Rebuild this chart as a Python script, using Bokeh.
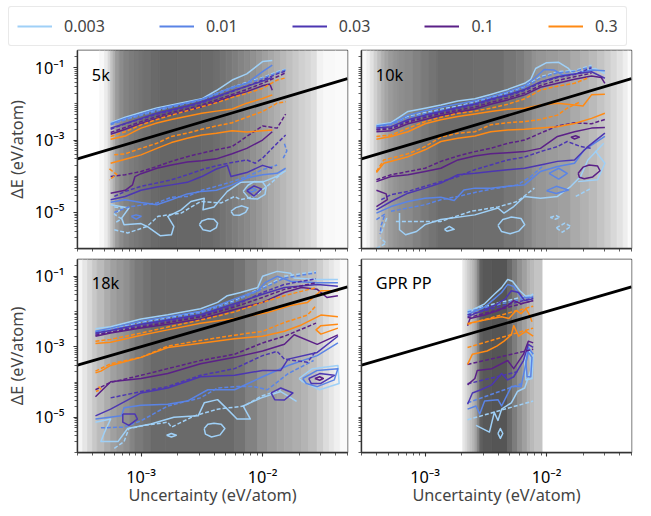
import re
from bokeh.plotting import figure
from bokeh.layouts import column, row
from bokeh.models import FixedTicker, Label, Legend, LegendItem
from bokeh.embed import file_html
from bokeh.resources import INLINE

LEVELS = ["0.003", "0.01", "0.03", "0.1", "0.3"]
LEVEL_KEYS = ["003", "01", "03", "1", "3"]
COLORS = ["#9fd0f7", "#5a84e6", "#4c36b2", "#5b2087", "#ff8a14"]
PANELS = ["5k", "10k", "18k", "GPR PP"]
PANEL_KEYS = ["K5", "K10", "K18", "GPR"]
X_TICK_LABELS = {1e-3: "10\u207b\u00b3", 1e-2: "10\u207b\u00b2"}
Y_TICK_LABELS = {1e-1: "10\u207b\u00b9", 1e-3: "10\u207b\u00b3", 1e-5: "10\u207b\u2075"}
X_LIMITS = (3e-4, 0.05)
Y_LIMITS = (1e-6, 0.3)
PARITY = [3e-4, 0.05]

# grey histogram bands: log10 edges and grey levels
K5_BAND_EDGES = [-3.523,-3.34,-3.30,-3.27,-3.25,-3.23,-3.21,-3.18,-3.14,-3.10,-3.06,-3.02,-2.98,-2.92,-2.85,-2.7,-2.5,-2.4,-2.35,-2.3,-2.25,-2.2,-2.15,-2.1,-2.05,-2.0,-1.95,-1.9,-1.85,-1.8,-1.75,-1.7,-1.65,-1.6,-1.55,-1.5,-1.4,-1.3]
K5_BAND_GREY = [255,248,235,215,195,175,155,140,130,124,120,116,112,106,102,103,106,110,115,120,126,132,138,145,152,160,168,176,184,192,200,208,214,222,242,248,250]
K10_BAND_EDGES = [-3.523,-3.48,-3.45,-3.42,-3.39,-3.36,-3.33,-3.3,-3.26,-3.22,-3.17,-3.1,-3.03,-2.97,-2.9,-2.6,-2.35,-2.25,-2.18,-2.12,-2.08,-2.0,-1.9,-1.8,-1.72,-1.65,-1.58,-1.52,-1.47,-1.42,-1.37,-1.33,-1.3]
K10_BAND_GREY = [250,240,225,208,192,176,165,155,148,142,138,130,122,116,108,110,118,124,135,145,150,155,160,170,178,186,196,206,216,226,238,250]
K18_BAND_EDGES = [-3.523,-3.48,-3.44,-3.4,-3.36,-3.3,-3.25,-3.2,-3.14,-3.09,-3.05,-2.98,-2.92,-2.8,-2.23,-2.14,-2.04,-1.96,-1.88,-1.82,-1.75,-1.68,-1.62,-1.55,-1.5,-1.45,-1.41,-1.36,-1.3]
K18_BAND_GREY = [245,230,215,200,187,172,160,152,144,132,122,114,106,106,115,130,145,155,162,168,174,180,190,205,220,230,240,250]
GPR_BAND_EDGES = [-3.523,-2.69,-2.67,-2.65,-2.63,-2.61,-2.59,-2.57,-2.55,-2.53,-2.45,-2.32,-2.28,-2.24,-2.2,-2.16,-2.13,-2.10,-2.03,-1.3]
GPR_BAND_GREY = [255,232,218,206,194,180,165,130,98,88,85,105,125,145,160,176,186,196,255]

# contour lines as (log10 uncertainty, log10 dE); s solid, d dashed, c closed solid, e closed dashed
K5_003_s1 = [(-3.25,-2.52),(-3.13,-2.37),(-3,-2.24),(-2.87,-2.11),(-2.75,-2.03),(-2.62,-1.94),(-2.5,-1.86),(-2.38,-1.63),(-2.25,-1.34),(-2.13,-1.17),(-2,-.83),(-1.92,-.8)]
K5_01_s1 = [(-3.25,-2.55),(-3.13,-2.4),(-3,-2.28),(-2.87,-2.15),(-2.75,-2.06),(-2.62,-1.97),(-2.5,-1.87),(-2.38,-1.71),(-2.25,-1.54),(-2.13,-1.43),(-2,-1.11),(-1.92,-.93)]
K5_003_d1 = [(-3.25,-2.55),(-3.13,-2.42),(-3,-2.29),(-2.87,-2.17),(-2.75,-2.08),(-2.62,-1.97),(-2.5,-1.87),(-2.38,-1.71),(-2.25,-1.54),(-2.13,-1.4),(-2,-1.27),(-1.88,-1.11),(-1.81,-1.04)]
K5_01_d1 = [(-3.25,-2.58),(-3.13,-2.44),(-3,-2.32),(-2.87,-2.2),(-2.75,-2.09),(-2.62,-1.99),(-2.5,-1.89),(-2.38,-1.74),(-2.25,-1.57),(-2.13,-1.43),(-2,-1.29),(-1.88,-1.14),(-1.81,-1.06)]
K5_03_s1 = [(-3.25,-2.67),(-3.13,-2.54),(-3,-2.4),(-2.87,-2.26),(-2.75,-2.16),(-2.62,-2.06),(-2.5,-1.94),(-2.38,-1.8),(-2.25,-1.64),(-2.13,-1.51),(-2,-1.37),(-1.92,-1.27)]
K5_03_d1 = [(-3.25,-2.7),(-3.13,-2.55),(-3,-2.42),(-2.87,-2.29),(-2.75,-2.19),(-2.62,-2.08),(-2.5,-1.97),(-2.38,-1.82),(-2.25,-1.66),(-2.13,-1.51),(-2,-1.34),(-1.88,-1.17),(-1.81,-1.09)]
K5_1_s1 = [(-3.25,-2.84),(-3.13,-2.7),(-3,-2.54),(-2.87,-2.4),(-2.75,-2.29),(-2.62,-2.19),(-2.5,-2.08),(-2.38,-1.94),(-2.25,-1.78),(-2.13,-1.66),(-2,-1.5),(-1.94,-1.45),(-1.92,-1.62)]
K5_1_d1 = [(-3.25,-2.79),(-3.13,-2.65),(-3,-2.49),(-2.87,-2.35),(-2.75,-2.24),(-2.62,-2.14),(-2.5,-2.03),(-2.38,-1.89),(-2.25,-1.74),(-2.13,-1.6),(-2,-1.43),(-1.88,-1.25),(-1.81,-1.14)]
K5_3_s1 = [(-3.25,-2.98),(-3.13,-2.89),(-3,-2.67),(-2.87,-2.53),(-2.75,-2.43),(-2.62,-2.34),(-2.5,-2.26),(-2.38,-2.2),(-2.25,-2.14),(-2.13,-1.98),(-2,-1.85),(-1.92,-1.75)]
K5_3_d1 = [(-3.25,-2.9),(-3.13,-2.77),(-3,-2.58),(-2.87,-2.43),(-2.75,-2.31),(-2.62,-2.19),(-2.5,-2.08),(-2.38,-1.97),(-2.25,-1.82),(-2.13,-1.71),(-2,-1.57),(-1.88,-1.34),(-1.81,-1.28)]
K5_3_d2 = [(-3.22,-3.41),(-3.13,-3.38),(-3,-3.23),(-2.87,-3.09),(-2.75,-2.9),(-2.62,-2.81),(-2.5,-2.7),(-2.38,-2.61),(-2.25,-2.52),(-2.13,-2.37),(-2,-2.21),(-1.88,-1.98),(-1.81,-1.94)]
K5_3_d3 = [(-3.26,-3.8),(-3.2,-3.95),(-3.26,-4.1)]
K5_3_s2 = [(-3.25,-3.64),(-3.13,-3.53),(-3,-3.41),(-2.87,-3.23),(-2.75,-3.07),(-2.62,-2.95),(-2.5,-2.86),(-2.38,-2.81),(-2.25,-2.74),(-2.13,-2.78),(-2,-2.74),(-1.92,-2.72)]
K5_1_d2 = [(-3.25,-4.01),(-3.13,-3.96),(-3,-3.87),(-2.87,-3.73),(-2.75,-3.59),(-2.62,-3.46),(-2.5,-3.36),(-2.38,-3.27),(-2.25,-3.18),(-2.13,-2.9),(-2,-2.61),(-1.88,-2.67),(-1.81,-2.28)]
K5_1_s2 = [(-3.25,-4.47),(-3.13,-4.39),(-3.07,-4.24),(-3.05,-4.01),(-3,-3.93),(-2.87,-3.78),(-2.75,-3.69),(-2.62,-3.61),(-2.5,-3.57),(-2.38,-3.52),(-2.25,-3.38),(-2.13,-3.23),(-2,-3),(-1.92,-2.77)]
K5_03_d2 = [(-3.22,-4.56),(-3.13,-4.42),(-3,-4.28),(-2.87,-4.19),(-2.75,-4.1),(-2.62,-3.96),(-2.5,-3.82),(-2.38,-3.71),(-2.25,-3.62),(-2.13,-3.55),(-2.06,-3.64),(-2,-3.5),(-1.88,-3.09),(-1.81,-2.86)]
K5_03_s2 = [(-3.25,-4.65),(-3.13,-4.56),(-3,-4.39),(-2.87,-4.3),(-2.75,-4.24),(-2.62,-4.17),(-2.5,-4.01),(-2.38,-3.8),(-2.29,-3.7),(-2.26,-4.01),(-2.13,-3.9),(-2,-3.7),(-1.92,-3.78)]
K5_01_s2 = [(-3.25,-4.72),(-3.13,-4.65),(-3,-4.73),(-2.87,-4.79),(-2.75,-4.65),(-2.62,-4.49),(-2.5,-4.42),(-2.38,-4.39),(-2.25,-4.24),(-2.13,-4.05),(-2,-3.96),(-1.88,-3.92),(-1.81,-3.78)]
K5_01_d2 = [(-3.22,-5),(-3.1,-4.85),(-3,-4.8),(-2.87,-4.74),(-2.75,-4.58),(-2.62,-4.56),(-2.5,-4.39),(-2.38,-4.28),(-2.25,-4.15),(-2.13,-4.01),(-2,-3.82),(-1.88,-3.69)]
K5_01_d3 = [(-1.82,-3.1),(-1.8,-3.3),(-1.83,-3.5)]
K5_01_c1 = [(-3.08,-5.11),(-3.04,-5.07),(-3,-5.11),(-3.04,-5.19)]
K5_01_c2 = [(-2.12,-4.38),(-2.08,-4.33),(-2.05,-4.38),(-2.09,-4.44)]
K5_03_c1 = [(-2.13,-4.4),(-2.07,-4.27),(-2.01,-4.35),(-2.07,-4.55)]
K5_003_s2 = [(-3.25,-4.79),(-3.1,-4.88),(-3.16,-5.16),(-3.14,-5.34),(-3,-5.31),(-2.95,-5.39),(-2.84,-5.65),(-2.75,-5.62),(-2.73,-5.39),(-2.78,-5.11),(-2.67,-4.93),(-2.59,-4.7),(-2.48,-4.61),(-2.49,-4.93),(-2.4,-4.85),(-2.29,-4.42),(-2.18,-4.17),(-1.99,-4.15),(-1.88,-4.0),(-1.81,-3.85)]
K5_003_d2 = [(-3.22,-5.48),(-3.11,-5.57),(-2.95,-5.39),(-2.86,-5.11),(-2.67,-5.02),(-2.51,-4.7),(-2.34,-4.74),(-2.23,-4.56),(-2.18,-4.65),(-2.07,-4.56),(-1.93,-4.19),(-1.81,-3.82)]
K5_003_d3 = [(-3.22,-4.85),(-3.15,-4.88),(-3.22,-5.05),(-3.16,-5.18),(-3.22,-5.3)]
K5_003_c1 = [(-2.52,-5.34),(-2.5,-5.24),(-2.45,-5.18),(-2.4,-5.19),(-2.37,-5.3),(-2.38,-5.42),(-2.43,-5.52),(-2.49,-5.48)]
K5_003_c2 = [(-2.26,-4.97),(-2.22,-4.87),(-2.17,-4.82),(-2.12,-4.88),(-2.14,-5.0),(-2.19,-5.08),(-2.24,-5.07)]
K5_003_c3 = [(-2.16,-4.42),(-2.12,-4.25),(-2.07,-4.15),(-2,-4.16),(-1.97,-4.3),(-1.98,-4.5),(-2.04,-4.63),(-2.11,-4.62)]

K10_003_s1 = [(-3.4,-2.58),(-3.28,-2.52),(-3.14,-2.21),(-3,-2.12),(-2.87,-2.03),(-2.73,-1.92),(-2.59,-1.86),(-2.46,-1.74),(-2.32,-1.6),(-2.18,-1.43),(-2.13,-1.32),(-2.09,-1.02),(-2,-.86),(-1.9,-.85),(-1.82,-1.02),(-1.78,-1.17),(-1.7,-1.09),(-1.6,-1.02),(-1.52,-1.16)]
K10_01_s1 = [(-3.4,-2.61),(-3.28,-2.55),(-3.14,-2.31),(-3,-2.19),(-2.87,-2.09),(-2.73,-2),(-2.59,-1.91),(-2.46,-1.8),(-2.32,-1.66),(-2.18,-1.5),(-2.1,-1.29),(-2.02,-1.05),(-1.94,-1.06),(-1.87,-1.2),(-1.77,-1.17),(-1.63,-1.06),(-1.52,-1.08)]
K10_003_d1 = [(-3.4,-2.61),(-3.28,-2.54),(-3.14,-2.35),(-3,-2.24),(-2.87,-2.15),(-2.73,-2.06),(-2.59,-1.94),(-2.46,-1.82),(-2.32,-1.69),(-2.18,-1.52),(-2.05,-1.25),(-1.91,-1.11),(-1.77,-1.08),(-1.63,-.93)]
K10_01_d1 = [(-3.4,-2.64),(-3.28,-2.57),(-3.14,-2.38),(-3,-2.27),(-2.87,-2.18),(-2.73,-2.09),(-2.59,-1.97),(-2.46,-1.85),(-2.32,-1.72),(-2.18,-1.55),(-2.05,-1.28),(-1.91,-1.14),(-1.77,-1.1),(-1.63,-.97)]
K10_03_s1 = [(-3.4,-2.67),(-3.28,-2.63),(-3.14,-2.44),(-3,-2.31),(-2.87,-2.21),(-2.73,-2.1),(-2.59,-2),(-2.46,-1.87),(-2.32,-1.75),(-2.18,-1.6),(-2.05,-1.39),(-1.91,-1.25),(-1.77,-1.17),(-1.63,-1.11),(-1.52,-1.29)]
K10_03_d1 = [(-3.4,-2.7),(-3.28,-2.66),(-3.14,-2.47),(-3,-2.34),(-2.87,-2.24),(-2.73,-2.13),(-2.59,-2.03),(-2.46,-1.9),(-2.32,-1.78),(-2.18,-1.63),(-2.05,-1.42),(-1.91,-1.27),(-1.77,-1.19),(-1.63,-1)]
K10_1_s1 = [(-3.4,-2.77),(-3.28,-2.74),(-3.14,-2.55),(-3,-2.43),(-2.87,-2.32),(-2.73,-2.23),(-2.59,-2.14),(-2.46,-2.01),(-2.32,-1.89),(-2.18,-1.75),(-2.05,-1.54),(-1.91,-1.43),(-1.77,-1.32),(-1.63,-1.23),(-1.55,-1.27),(-1.52,-1.43)]
K10_1_d1 = [(-3.4,-2.72),(-3.28,-2.69),(-3.14,-2.5),(-3,-2.38),(-2.87,-2.27),(-2.73,-2.18),(-2.59,-2.09),(-2.46,-1.96),(-2.32,-1.84),(-2.18,-1.7),(-2.05,-1.49),(-1.91,-1.35),(-1.77,-1.25),(-1.63,-1.15)]
K10_3_s1 = [(-3.4,-2.98),(-3.28,-2.9),(-3.14,-2.77),(-3,-2.55),(-2.87,-2.44),(-2.73,-2.35),(-2.59,-2.28),(-2.46,-2.21),(-2.32,-2.15),(-2.18,-2.12),(-2.05,-2.03),(-1.91,-1.98),(-1.77,-2.03),(-1.7,-2.06),(-1.63,-1.75),(-1.52,-1.73)]
K10_3_d1 = [(-3.4,-2.9),(-3.28,-2.86),(-3.14,-2.67),(-3,-2.49),(-2.87,-2.37),(-2.73,-2.26),(-2.59,-2.2),(-2.46,-2.12),(-2.32,-2.01),(-2.18,-1.86),(-2.05,-1.62),(-1.91,-1.51),(-1.77,-1.43),(-1.65,-1.27)]
K10_3_s2 = [(-3.4,-3.9),(-3.34,-3.64),(-3.14,-3.46),(-3,-3.27),(-2.87,-3.04),(-2.73,-2.95),(-2.59,-2.89),(-2.46,-2.77),(-2.32,-2.72),(-2.18,-2.7),(-2.05,-2.67),(-1.91,-2.63),(-1.77,-2.54),(-1.63,-2.4),(-1.52,-2.26)]
K10_3_d2 = [(-3.4,-3.87),(-3.34,-3.55),(-3.14,-3.38),(-3,-3.18),(-2.87,-2.92),(-2.73,-2.81),(-2.59,-2.77),(-2.46,-2.58),(-2.32,-2.52),(-2.18,-2.49),(-2.05,-2.43),(-1.91,-2.31),(-1.83,-2.12),(-1.72,-1.94)]
K10_1_s2 = [(-3.4,-4.15),(-3.28,-4.01),(-3.14,-3.96),(-3,-3.87),(-2.87,-3.78),(-2.73,-3.55),(-2.59,-3.44),(-2.46,-3.38),(-2.32,-3.35),(-2.18,-3.32),(-2.05,-3.23),(-1.91,-2.9),(-1.77,-2.77),(-1.63,-2.67),(-1.52,-2.65)]
K10_1_d2 = [(-3.4,-4.1),(-3.28,-3.96),(-3.14,-3.87),(-3,-3.78),(-2.87,-3.59),(-2.73,-3.44),(-2.59,-3.32),(-2.46,-3.23),(-2.32,-3.09),(-2.18,-3),(-2.05,-2.81),(-1.91,-2.61),(-1.77,-2.52),(-1.63,-2.55),(-1.52,-2.43)]
K10_03_s2 = [(-3.4,-4.93),(-3.28,-4.7),(-3.14,-4.47),(-3,-4.33),(-2.87,-4.19),(-2.73,-3.96),(-2.59,-3.92),(-2.46,-3.87),(-2.32,-3.82),(-2.18,-3.78),(-2.05,-3.69),(-1.91,-3.59),(-1.77,-3.55),(-1.66,-3.18),(-1.52,-2.81)]
K10_03_d2 = [(-3.36,-4.65),(-3.28,-4.51),(-3.14,-4.42),(-3,-4.28),(-2.87,-4.15),(-2.73,-4.01),(-2.59,-3.82),(-2.46,-3.69),(-2.32,-3.55),(-2.18,-3.47),(-2.05,-3.32),(-1.91,-3.18),(-1.83,-3.04),(-1.72,-3.18),(-1.63,-3.23)]
K10_1_s3 = [(-3.4,-4.39),(-3.32,-4.49),(-3.31,-4.65),(-3.4,-4.84)]
K10_1_c1 = [(-1.74,-3.92),(-1.7,-3.75),(-1.65,-3.69),(-1.58,-3.72),(-1.56,-3.85),(-1.62,-4.02),(-1.69,-4.07),(-1.73,-4.03)]
K10_1_c2 = [(-1.8,-2.92),(-1.76,-2.88),(-1.73,-2.92),(-1.77,-2.97)]
K10_01_s2 = [(-3.4,-5.02),(-3.28,-4.84),(-3.14,-4.7),(-3,-4.61),(-2.87,-4.58),(-2.76,-4.67),(-2.68,-4.38),(-2.59,-4.33),(-2.46,-4.33),(-2.32,-4.28),(-2.18,-4.24),(-2.05,-3.87),(-1.91,-3.73),(-1.77,-3.64),(-1.69,-3.27),(-1.52,-2.9)]
K10_01_d2 = [(-3.28,-4.97),(-3.14,-4.88),(-3,-4.79),(-2.87,-4.65),(-2.73,-4.56),(-2.59,-4.45),(-2.46,-4.36),(-2.24,-4.24),(-2.13,-4.01),(-2.02,-3.69)]
K10_01_d3 = [(-3.4,-5.2),(-3.33,-5.05),(-3.36,-5.35),(-3.37,-5.6)]
K10_01_c1 = [(-1.98,-3.92),(-1.9,-3.78),(-1.83,-3.92),(-1.9,-4.08)]
K10_01_c2 = [(-2,-4.4),(-1.92,-4.28),(-1.82,-4.38),(-1.92,-4.48)]
K10_003_s2 = [(-3.21,-5.02),(-3.21,-5.48),(-3.16,-5.62),(-3.07,-5.53),(-3,-5.34),(-2.87,-5.2),(-2.59,-5.07),(-2.4,-4.88),(-2.35,-5.02),(-2.27,-4.84),(-2.18,-4.56),(-2.05,-4.61),(-1.91,-4.56),(-1.8,-4.28),(-1.72,-4.01),(-1.66,-3.55),(-1.53,-3.09)]
K10_003_s3 = [(-1.74,-4.15),(-1.58,-4.1),(-1.52,-3.64),(-1.6,-3.3)]
K10_003_d2 = [(-3.24,-5.25),(-3.11,-5.25),(-2.87,-5.25),(-2.62,-4.97),(-2.4,-4.85),(-2.24,-4.7),(-2.1,-4.33)]
K10_003_d3 = [(-3.36,-5.57),(-3.31,-5.11)]
K10_003_d4 = [(-3.4,-6.0),(-3.32,-5.85),(-3.37,-5.7)]
K10_003_c1 = [(-2.4,-5.36),(-2.36,-5.2),(-2.29,-5.13),(-2.21,-5.17),(-2.18,-5.34),(-2.23,-5.52),(-2.3,-5.59),(-2.37,-5.53)]
K10_003_c2 = [(-2.84,-5.47),(-2.8,-5.39),(-2.76,-5.47),(-2.82,-5.52)]
K10_003_e1 = [(-1.92,-5.43),(-1.85,-5.3),(-1.8,-5.39),(-1.87,-5.55)]
K10_003_d5 = [(-1.76,-4.56),(-1.63,-4.33)]
K10_003_e2 = [(-1.97,-5.14),(-1.92,-5.09),(-1.89,-5.14),(-1.93,-5.19)]

K18_003_s1 = [(-3.375,-2.49),(-3.25,-2.43),(-3,-2.21),(-2.78,-2.09),(-2.51,-1.92),(-2.37,-1.74),(-2.29,-1.55),(-2.18,-1.46),(-2.04,-1.32),(-2,-1),(-1.88,-.86),(-1.77,-.91),(-1.74,-1.05),(-1.55,-1.09),(-1.38,-1.09)]
K18_01_s1 = [(-3.375,-2.56),(-3.25,-2.47),(-3,-2.27),(-2.78,-2.15),(-2.51,-1.99),(-2.37,-1.83),(-2.23,-1.64),(-2.04,-1.41),(-1.98,-1.18),(-1.88,-1),(-1.77,-1.14),(-1.55,-1.18),(-1.38,-1.18)]
K18_003_d1 = [(-3.375,-2.55),(-3.25,-2.49),(-3,-2.31),(-2.78,-2.18),(-2.51,-2.01),(-2.23,-1.69),(-2,-1.32),(-1.82,-1),(-1.56,-.86)]
K18_01_d1 = [(-3.375,-2.58),(-3.25,-2.52),(-3,-2.34),(-2.78,-2.21),(-2.51,-2.04),(-2.23,-1.72),(-2,-1.35),(-1.82,-1.05),(-1.56,-.9)]
K18_03_s1 = [(-3.375,-2.61),(-3.25,-2.54),(-3,-2.36),(-2.78,-2.24),(-2.51,-2.09),(-2.23,-1.78),(-2,-1.51),(-1.82,-1.32),(-1.55,-1.23),(-1.38,-1.28)]
K18_03_d1 = [(-3.375,-2.64),(-3.25,-2.58),(-3,-2.4),(-2.78,-2.27),(-2.51,-2.12),(-2.23,-1.83),(-2,-1.46),(-1.82,-1.23),(-1.56,-1.07)]
K18_1_s1 = [(-3.375,-2.7),(-3.25,-2.61),(-3,-2.47),(-2.78,-2.36),(-2.51,-2.21),(-2.23,-1.94),(-2,-1.74),(-1.82,-1.46),(-1.68,-1.32),(-1.55,-1.37),(-1.47,-1.6),(-1.38,-1.55)]
K18_1_d1 = [(-3.375,-2.67),(-3.25,-2.59),(-3,-2.44),(-2.78,-2.31),(-2.51,-2.15),(-2.23,-1.87),(-2,-1.6),(-1.82,-1.37),(-1.56,-1.18)]
K18_3_s1 = [(-3.375,-2.91),(-3.25,-2.87),(-3,-2.67),(-2.78,-2.52),(-2.51,-2.33),(-2.23,-2.2),(-1.96,-2.03),(-1.77,-1.83),(-1.63,-1.74),(-1.52,-1.41),(-1.38,-1.41)]
K18_3_d1 = [(-3.375,-2.84),(-3.25,-2.79),(-3,-2.61),(-2.78,-2.44),(-2.51,-2.24),(-2.23,-2.01),(-2,-1.74),(-1.82,-1.55),(-1.56,-1.32)]
K18_3_s2 = [(-3.375,-3.74),(-3.33,-3.69),(-3.25,-3.53),(-3,-3.3),(-2.78,-3.02),(-2.51,-2.9),(-2.23,-2.77),(-2,-2.7),(-1.82,-2.56),(-1.68,-2.38),(-1.52,-2.1),(-1.38,-2.15)]
K18_3_s3 = [(-1.38,-2.36),(-1.52,-2.4),(-1.56,-2.52),(-1.52,-2.64),(-1.38,-2.47)]
K18_3_d2 = [(-3.375,-3.69),(-3.25,-3.48),(-3,-3.3),(-2.78,-2.98),(-2.51,-2.82),(-2.23,-2.67),(-2,-2.56),(-1.82,-2.31),(-1.63,-2.1),(-1.56,-1.83)]
K18_3_d3 = [(-3.35,-4.13),(-3.33,-4.2),(-3.37,-4.27)]
K18_1_d2 = [(-3.375,-4.22),(-3.25,-4.01),(-3,-3.81),(-2.78,-3.62),(-2.51,-3.39),(-2.23,-3.21),(-2,-2.89),(-1.82,-2.7),(-1.56,-2.33)]
K18_1_s2 = [(-3.375,-4.42),(-3.25,-3.99),(-3,-3.9),(-2.78,-3.76),(-2.51,-3.48),(-2.23,-3.3),(-2,-3.12),(-1.82,-2.93),(-1.74,-2.66),(-1.55,-2.93),(-1.38,-2.66)]
K18_03_d2 = [(-3.25,-4.45),(-3,-4.27),(-2.78,-4.13),(-2.51,-3.81),(-2.23,-3.62),(-2,-3.25),(-1.88,-3.13),(-1.82,-3.35),(-1.63,-3.44),(-1.56,-3.12)]
K18_03_s2 = [(-3.375,-4.96),(-3.25,-4.77),(-3,-4.31),(-2.78,-4.17),(-2.51,-3.85),(-2.23,-3.81),(-2,-3.67),(-1.85,-3.67),(-1.79,-3.35),(-1.55,-3.16),(-1.38,-2.7)]
K18_01_s2 = [(-3.375,-5.05),(-3.16,-4.96),(-3.14,-4.73),(-3,-4.66),(-2.78,-4.63),(-2.62,-4.54),(-2.45,-4.22),(-2.23,-4.22),(-2,-3.85),(-1.79,-3.53),(-1.55,-3.25),(-1.38,-2.89)]
K18_03_c1 = [(-3.15,-4.91),(-3.05,-4.91),(-3.03,-5.05),(-3.1,-5.23),(-3.15,-5.14)]
K18_03_c2 = [(-1.93,-4.31),(-1.85,-4.17),(-1.75,-4.31),(-1.82,-4.51),(-1.9,-4.5)]
K18_01_d2 = [(-3.33,-5.3),(-3.14,-5.28),(-3,-5.1),(-2.78,-4.68),(-2.51,-4.45),(-2.37,-4.17),(-2.23,-4.13),(-2.07,-4.13),(-1.96,-4.22),(-1.79,-3.76),(-1.58,-3.39)]
K18_003_s2 = [(-3.375,-5.14),(-3.25,-5.05),(-3.3,-5.42),(-3.33,-5.69),(-3.19,-5.69),(-3.11,-5.32),(-2.92,-5.19),(-2.73,-5),(-2.53,-4.96),(-2.48,-4.59),(-2.37,-4.5),(-2.29,-4.77),(-2.21,-5.05),(-2.1,-5.05),(-2.16,-4.68),(-2.01,-4.45),(-1.85,-4.27),(-1.72,-4.55)]
K18_003_d2 = [(-3.22,-5.88),(-3.14,-5.69),(-3.1,-5.32),(-2.97,-5.23),(-2.78,-5.14),(-2.75,-5.28),(-2.56,-4.96),(-2.37,-4.77),(-2.15,-4.68),(-2.01,-4.4),(-1.85,-4.22)]
K18_003_c1 = [(-2.48,-5.32),(-2.45,-5.2),(-2.4,-5.17),(-2.34,-5.2),(-2.31,-5.32),(-2.35,-5.5),(-2.42,-5.56),(-2.47,-5.48)]
K18_003_c2 = [(-2.79,-5.51),(-2.75,-5.46),(-2.71,-5.51),(-2.75,-5.56)]
K18_003_c3 = [(-1.7,-3.9),(-1.59,-3.62),(-1.38,-3.53),(-1.37,-4.04),(-1.53,-4.22),(-1.67,-3.99)]
K18_01_c1 = [(-1.67,-3.9),(-1.55,-3.67),(-1.38,-3.62),(-1.41,-3.94),(-1.55,-4.13),(-1.64,-4.04)]
K18_03_c3 = [(-1.62,-3.9),(-1.53,-3.76),(-1.41,-3.81),(-1.52,-4.04),(-1.6,-4.04)]
K18_1_c1 = [(-1.57,-3.9),(-1.53,-3.85),(-1.5,-3.9),(-1.53,-3.95)]

GPR_003_s1 = [(-2.65,-2.06),(-2.59,-1.92),(-2.51,-1.78),(-2.43,-1.51),(-2.37,-1.32),(-2.32,-1.09),(-2.28,-1.14),(-2.22,-1.41),(-2.16,-1.6),(-2.11,-1.51)]
GPR_01_s1 = [(-2.65,-2.09),(-2.59,-1.99),(-2.51,-1.87),(-2.43,-1.64),(-2.37,-1.46),(-2.32,-1.23),(-2.27,-1.29),(-2.21,-1.6),(-2.11,-1.6)]
GPR_03_s1 = [(-2.65,-2.15),(-2.59,-2.06),(-2.51,-1.95),(-2.43,-1.83),(-2.34,-1.64),(-2.29,-1.41),(-2.23,-1.46),(-2.18,-1.69),(-2.11,-1.64)]
GPR_1_s1 = [(-2.65,-2.4),(-2.63,-2.2),(-2.51,-2.1),(-2.4,-1.97),(-2.32,-1.83),(-2.27,-1.69),(-2.21,-1.78),(-2.11,-1.69)]
GPR_003_d1 = [(-2.65,-1.97),(-2.11,-1.51)]
GPR_01_d1 = [(-2.65,-2.01),(-2.11,-1.57)]
GPR_03_d1 = [(-2.65,-2.1),(-2.11,-1.62)]
GPR_1_d1 = [(-2.65,-2.18),(-2.11,-1.69)]
GPR_3_d1 = [(-2.65,-2.36),(-2.11,-1.85)]
GPR_3_s1 = [(-2.65,-2.34),(-2.51,-2.24),(-2.37,-2.15),(-2.31,-2.2),(-2.25,-1.97),(-2.21,-2.06),(-2.17,-1.92),(-2.14,-2.1),(-2.12,-2.29)]
GPR_3_d2 = [(-2.65,-3.02),(-2.11,-2.47)]
GPR_3_s2 = [(-2.65,-3.5),(-2.61,-3.21),(-2.49,-3.12),(-2.41,-2.98),(-2.35,-2.84),(-2.29,-2.66),(-2.27,-2.4),(-2.23,-2.7),(-2.17,-2.56),(-2.11,-2.7)]
GPR_1_d2 = [(-2.65,-3.5),(-2.11,-3.07)]
GPR_1_s2 = [(-2.65,-4.08),(-2.59,-3.9),(-2.57,-3.67),(-2.45,-3.62),(-2.32,-3.39),(-2.27,-3.62),(-2.19,-3.21),(-2.15,-2.84),(-2.11,-2.89)]
GPR_03_d2 = [(-2.65,-4.05),(-2.24,-3.71)]
GPR_03_s2 = [(-2.65,-4.63),(-2.61,-4.31),(-2.54,-4.22),(-2.45,-4.08),(-2.37,-3.76),(-2.32,-3.94),(-2.27,-3.85),(-2.19,-3.39),(-2.15,-2.93),(-2.11,-3.02)]
GPR_01_d2 = [(-2.65,-4.59),(-2.2,-4.04)]
GPR_01_s2 = [(-2.65,-4.77),(-2.58,-4.68),(-2.55,-4.91),(-2.51,-4.54),(-2.4,-4.5),(-2.37,-4.68),(-2.29,-4.13),(-2.21,-4.13),(-2.17,-3.48),(-2.15,-3.02),(-2.11,-3.21)]
GPR_003_d2 = [(-2.65,-5.07),(-2.11,-4.54)]
GPR_003_s2 = [(-2.58,-5.23),(-2.47,-5.42),(-2.43,-4.86),(-2.4,-5.09),(-2.37,-4.77),(-2.29,-4.59),(-2.24,-4.27),(-2.18,-4.17),(-2.13,-3.67),(-2.14,-3.02)]
GPR_003_c1 = [(-2.4,-5.46),(-2.38,-5.32),(-2.36,-5.46),(-2.38,-5.6)]
GPR_003_c2 = [(-2.18,-3.39),(-2.17,-3.94),(-2.12,-3.9),(-2.11,-3.21),(-2.16,-3.07)]
GPR_01_c1 = [(-2.17,-3.45),(-2.16,-3.85),(-2.13,-3.85),(-2.12,-3.3),(-2.15,-3.15)]

FONT = "Noto Sans"
FRAME = "#333333"
pattern = re.compile(r"^(K5|K10|K18|GPR)_(003|01|03|1|3)_([sdce])\d+$")
series = {k: [] for k in PANEL_KEYS}
for name, points in list(globals().items()):
    m = pattern.match(name)
    if m:
        series[m.group(1)].append((LEVEL_KEYS.index(m.group(2)), m.group(3), points))

decades = range(-7, 1)
all_minor = [m * 10.0 ** d for d in decades for m in range(1, 10)]


def panel(idx, width, height, left, right, top, bottom, labelled_x, labelled_y):
    key, title = PANEL_KEYS[idx], PANELS[idx]
    p = figure(width=width, height=height, x_axis_type="log", y_axis_type="log",
               x_range=X_LIMITS, y_range=Y_LIMITS, output_backend="svg", toolbar_location=None,
               min_border_left=left, min_border_right=right, min_border_top=top, min_border_bottom=bottom,
               background_fill_color="white", border_fill_color=None)
    p.grid.visible = False
    p.outline_line_color = FRAME
    p.outline_line_width = 1.4
    xt = list(X_TICK_LABELS) if labelled_x else []
    yt = list(Y_TICK_LABELS) if labelled_y else []
    p.xaxis.ticker = FixedTicker(ticks=xt, minor_ticks=[t for t in all_minor if not any(abs(t - u) < 1e-12 for u in xt)])
    p.yaxis.ticker = FixedTicker(ticks=yt, minor_ticks=[t for t in all_minor if not any(abs(t - u) < 1e-12 for u in yt)])
    for ax, labels, standoff in ((p.xaxis[0], X_TICK_LABELS, 9), (p.yaxis[0], Y_TICK_LABELS, 9)):
        ax.major_label_overrides = labels
        ax.major_label_text_font = FONT
        ax.major_label_text_font_size = "16.3px"
        ax.major_label_text_color = "#000000"
        ax.major_tick_line_color = FRAME
        ax.minor_tick_line_color = FRAME
        ax.axis_line_color = FRAME
        ax.axis_line_width = 1.4
        ax.major_tick_line_width = 1.1
        ax.minor_tick_line_width = 0.8
        ax.major_tick_in = 0
        ax.major_tick_out = 4
        ax.minor_tick_in = 0
        ax.minor_tick_out = 3
        ax.major_label_standoff = standoff
    if labelled_x:
        p.xaxis.axis_label = "Uncertainty (eV/atom)"
        p.xaxis.axis_label_text_font = FONT
        p.xaxis.axis_label_text_font_style = "normal"
        p.xaxis.axis_label_text_font_size = "16.3px"
        p.xaxis.axis_label_standoff = -7
    if labelled_y:
        p.yaxis.axis_label = "\u0394E (eV/atom)"
        p.yaxis.axis_label_text_font = FONT
        p.yaxis.axis_label_text_font_style = "normal"
        p.yaxis.axis_label_text_font_size = "16.3px"
        p.yaxis.axis_label_standoff = 4

    edges = globals()[key + "_BAND_EDGES"]
    greys = globals()[key + "_BAND_GREY"]
    band_colors = ["#%02x%02x%02x" % (g, g, g) for g in greys]
    p.quad(left=[10 ** e for e in edges[:-1]], right=[10 ** e for e in edges[1:]],
           bottom=Y_LIMITS[0], top=Y_LIMITS[1],
           fill_color=band_colors, line_color=band_colors, line_width=0.8)

    for level in range(5):
        for lv, kind, pts in series[key]:
            if lv != level:
                continue
            pts = list(pts) + ([pts[0]] if kind in "ce" else [])
            p.line([10 ** a for a, _ in pts], [10 ** b for _, b in pts], line_color=COLORS[lv],
                   line_width=1.5, line_join="round",
                   line_dash="4 2" if kind in "de" else "solid")

    p.line(PARITY, PARITY, line_color="black", line_width=2.8)
    p.add_layout(Label(x=10 ** -3.405, y=10 ** -1.2, text=title, text_font=FONT,
                       text_font_size="16.3px", text_color="black", text_baseline="alphabetic"))
    return p


a = panel(0, 354, 205, 77, 7, 1, 6, False, True)
b = panel(1, 286, 205, 7, 9, 1, 6, False, False)
c = panel(2, 354, 254, 77, 7, 5, 51, True, True)
d = panel(3, 286, 254, 7, 9, 5, 51, True, False)

lf = figure(width=640, height=49, x_range=(0, 1), y_range=(0, 1), output_backend="svg",
            toolbar_location=None, min_border=0, border_fill_color=None, background_fill_color=None)
lf.axis.visible = False
lf.grid.visible = False
lf.outline_line_color = None
items = []
for name, color in zip(LEVELS, COLORS):
    r = lf.line([5, 6], [5, 6], line_color=color, line_width=1.8)
    items.append(LegendItem(label=name, renderers=[r]))
legend = Legend(items=items, orientation="horizontal", location=(8, 3), margin=0, padding=8, spacing=54,
                glyph_width=35, glyph_height=16, label_standoff=12, label_text_font=FONT,
                label_text_font_size="16px", label_height=16,
                border_line_color="#d4d4d4", border_line_width=1.3, background_fill_alpha=1)
if hasattr(legend, "border_radius"):
    legend.border_radius = 3
lf.add_layout(legend, "center")

page = column(lf, row(a, b), row(c, d), spacing=0)
open("out.html", "w").write(file_html(page, INLINE))
